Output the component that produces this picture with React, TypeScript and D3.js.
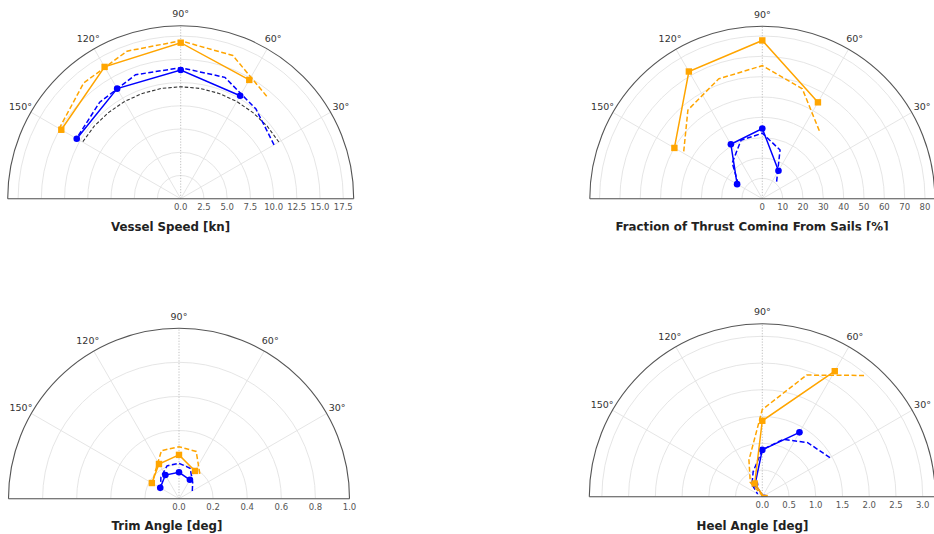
import React from "react";
import * as d3 from "d3";

// ---------- angles ----------
const SOLID_ANGLES = [150, 120, 90, 60];
const DASH_ANGLES = [30, 50, 70, 90, 110, 130, 150];
const REF_ANGLES = [30, 40, 50, 60, 70, 80, 90, 100, 110, 120, 130, 140, 150];
const ANGLE_TICKS = [30, 60, 90, 120, 150];
const GRID_ANGLES = [0, 30, 60, 120, 150, 180];

// ---------- Vessel speed [kn] ----------
const speedOrange = [14.84, 16.38, 16.79, 14.76];
const speedBlue = [12.92, 13.68, 13.85, 12.8];
const speedOrangeDash = [null, 14.4, 16.4, 17.0, 16.9, 16.25, 15.1];
const speedBlueDash = [11.6, 12.6, 13.9, 14.1, 14.2, 13.56, 12.95];
const speedRef = [12.2, 12.15, 12.1, 12.08, 12.06, 12.05, 12.05, 12.05, 12.06, 12.08, 12.1, 12.15, 12.2];
const speedTicks = ["0.0", "2.5", "5.0", "7.5", "10.0", "12.5", "15.0", "17.5"];

// ---------- Fraction of thrust from sails [%] ----------
const thrustOrange = [49.9, 72.2, 77.8, 54.7];
const thrustBlue = [14.3, 30.9, 34.5, 15.9];
const thrustOrangeDash = [null, 43.6, 57.5, 65.4, 62.7, 56.9, 44.7];
const thrustBlueDash = [null, 10.95, 25.5, 32.2, 30.6, 23.0, 13.5];
const thrustTicks = ["0", "10", "20", "30", "40", "50", "60", "70", "80"];

// ---------- Trim angle [deg] ----------
const trimOrange = [0.184, 0.235, 0.257, 0.188];
const trimBlue = [0.127, 0.16, 0.155, 0.128];
const trimOrangeDash = [null, 0.19, 0.295, 0.305, 0.3, 0.215, 0.18];
const trimBlueDash = [0.09, 0.125, 0.19, 0.208, 0.205, 0.165, 0.125];
const trimTicks = ["0.0", "0.2", "0.4", "0.6", "0.8", "1.0"];

// ---------- Heel angle [deg] ----------
const heelOrange = [-0.05, 0.285, 1.42, 2.71];
const heelBlue = [-0.04, 0.27, 0.875, 1.39];
const heelOrangeDash = [null, 2.96, 2.42, 1.63, 0.73, 0.35, -0.05];
const heelBlueDash = [1.46, 1.32, 1.14, 0.88, 0.5, 0.3, 0.1];
const heelTicks = ["0.0", "0.5", "1.0", "1.5", "2.0", "2.5", "3.0"];

const ORANGE = "#ffa500";
const BLUE = "#0000ff";
const FONT = "DejaVu Sans, Verdana, sans-serif";

type Series = { angles: number[]; values: (number | null)[]; color: string; dash?: string; marker?: "square" | "circle"; width?: number };

type PanelCfg = {
  id: string;
  cx: number;
  cy: number;
  R: number;
  rmax: number;
  ticks: string[];
  title: string;
  titleX: number;
  titleY: number;
  titleClip?: number;
  series: Series[];
};

const toRad = (deg: number) => ((90 - deg) * Math.PI) / 180; // d3 radial angle (clockwise from 12 o'clock)

function Panel({ cfg }: { cfg: PanelCfg }) {
  const r = d3.scaleLinear().domain([0, cfg.rmax]).range([0, cfg.R]);
  const tickVals = cfg.ticks.map((t) => +t);
  const gridVals = tickVals.filter((v) => v > 0 && r(v) < cfg.R - 1);

  const halfArc = (rad: number) => {
    const p = d3.path();
    p.moveTo(-rad, 0);
    p.arc(0, 0, rad, Math.PI, 2 * Math.PI);
    return p.toString();
  };
  const clipPath = (() => {
    const p = d3.path();
    p.moveTo(-cfg.R, 0);
    p.arc(0, 0, cfg.R, Math.PI, 2 * Math.PI);
    p.closePath();
    return p.toString();
  })();

  // negative radii fall on the opposite side (then clipped), as in the source plot
  const line = d3
    .lineRadial<{ a: number; v: number | null }>()
    .defined((d) => d.v !== null)
    .angle((d) => toRad(d.a))
    .radius((d) => r(d.v as number));

  const pt = (a: number, v: number) => {
    const t = (a * Math.PI) / 180;
    return [r(v) * Math.cos(t), -r(v) * Math.sin(t)];
  };

  return (
    <g>
      <defs>
        <clipPath id={`clip-${cfg.id}`}>
          <path d={clipPath} />
        </clipPath>
        {cfg.titleClip !== undefined && (
          <clipPath id={`tclip-${cfg.id}`}>
            <rect x={0} y={0} width={934} height={cfg.titleClip} />
          </clipPath>
        )}
      </defs>
      <g transform={`translate(${cfg.cx},${cfg.cy})`}>
        {gridVals.map((v) => (
          <path key={v} d={halfArc(r(v))} fill="none" stroke="#e2e2e2" strokeWidth={0.9} />
        ))}
        {GRID_ANGLES.map((a) => {
          const [x, y] = pt(a, cfg.rmax);
          return <line key={a} x1={0} y1={0} x2={x} y2={y} stroke="#e2e2e2" strokeWidth={0.9} />;
        })}
        <line x1={0} y1={0} x2={0} y2={-cfg.R} stroke="#b8b8b8" strokeWidth={0.9} strokeDasharray="1.2,1.6" />
        <g clipPath={`url(#clip-${cfg.id})`}>
          {cfg.series.map((s, i) => {
            const data = s.angles.map((a, k) => ({ a, v: s.values[k] }));
            return (
              <g key={i}>
                <path d={line(data) || ""} fill="none" stroke={s.color} strokeWidth={s.width ?? 1.5} strokeDasharray={s.dash} />
                {s.marker &&
                  data
                    .filter((d) => d.v !== null)
                    .map((d, k) => {
                      const [x, y] = pt(d.a, d.v as number);
                      return s.marker === "square" ? (
                        <rect key={k} x={x - 3.2} y={y - 3.2} width={6.4} height={6.4} fill={s.color} />
                      ) : (
                        <circle key={k} cx={x} cy={y} r={3.3} fill={s.color} />
                      );
                    })}
              </g>
            );
          })}
        </g>
        <path d={halfArc(cfg.R)} fill="none" stroke="#555" strokeWidth={1.1} />
        <line x1={-cfg.R} y1={0} x2={cfg.R} y2={0} stroke="#555" strokeWidth={1.1} />
        {ANGLE_TICKS.map((a) => {
          const t = (a * Math.PI) / 180;
          const rr = cfg.R + 12;
          return (
            <text key={a} x={rr * Math.cos(t)} y={-rr * Math.sin(t)} textAnchor="middle" dominantBaseline="central" fontSize={9.5} fill="#333" fontFamily={FONT}>
              {a}°
            </text>
          );
        })}
        {cfg.ticks.map((t, i) => (
          <text key={i} x={r(tickVals[i])} y={11} textAnchor="middle" fontSize={8.5} fill="#555" fontFamily={FONT}>
            {t}
          </text>
        ))}
      </g>
      <text
        x={cfg.titleX}
        y={cfg.titleY}
        textAnchor="middle"
        fontSize={11.8}
        fontWeight="bold"
        fill="#222"
        fontFamily={FONT}
        clipPath={cfg.titleClip !== undefined ? `url(#tclip-${cfg.id})` : undefined}
      >
        {cfg.title}
      </text>
    </g>
  );
}

function mk(orange: number[], blue: number[], oDash: (number | null)[], bDash: (number | null)[], ref?: number[]): Series[] {
  const s: Series[] = [];
  if (ref) s.push({ angles: REF_ANGLES, values: ref, color: "#333", dash: "3.5,2", width: 1.1 });
  s.push({ angles: DASH_ANGLES, values: bDash, color: BLUE, dash: "5,2.5" });
  s.push({ angles: SOLID_ANGLES, values: blue, color: BLUE, marker: "circle" });
  s.push({ angles: DASH_ANGLES, values: oDash, color: ORANGE, dash: "5,2.5" });
  s.push({ angles: SOLID_ANGLES, values: orange, color: ORANGE, marker: "square" });
  return s;
}

const PANELS: PanelCfg[] = [
  {
    id: "speed", cx: 180.7, cy: 198.7, R: 173, rmax: 18.62, ticks: speedTicks,
    title: "Vessel Speed [kn]", titleX: 170.5, titleY: 230.5,
    series: mk(speedOrange, speedBlue, speedOrangeDash, speedBlueDash, speedRef),
  },
  {
    id: "thrust", cx: 762.3, cy: 198.7, R: 172.5, rmax: 84.8, ticks: thrustTicks,
    title: "Fraction of Thrust Coming From Sails [%]", titleX: 752, titleY: 230.5, titleClip: 230.6,
    series: mk(thrustOrange, thrustBlue, thrustOrangeDash, thrustBlueDash),
  },
  {
    id: "trim", cx: 179, cy: 498.7, R: 170.5, rmax: 1.0, ticks: trimTicks,
    title: "Trim Angle [deg]", titleX: 167, titleY: 530,
    series: mk(trimOrange, trimBlue, trimOrangeDash, trimBlueDash),
  },
  {
    id: "heel", cx: 762.3, cy: 496.7, R: 173, rmax: 3.235, ticks: heelTicks,
    title: "Heel Angle [deg]", titleX: 752.5, titleY: 529.5,
    series: mk(heelOrange, heelBlue, heelOrangeDash, heelBlueDash),
  },
];

export default function App() {
  return (
    <svg width={934} height={534} style={{ position: "absolute", left: 0, top: 0, background: "#fff" }}>
      <rect width={934} height={534} fill="#fff" />
      {PANELS.map((p) => (
        <Panel key={p.id} cfg={p} />
      ))}
    </svg>
  );
}
